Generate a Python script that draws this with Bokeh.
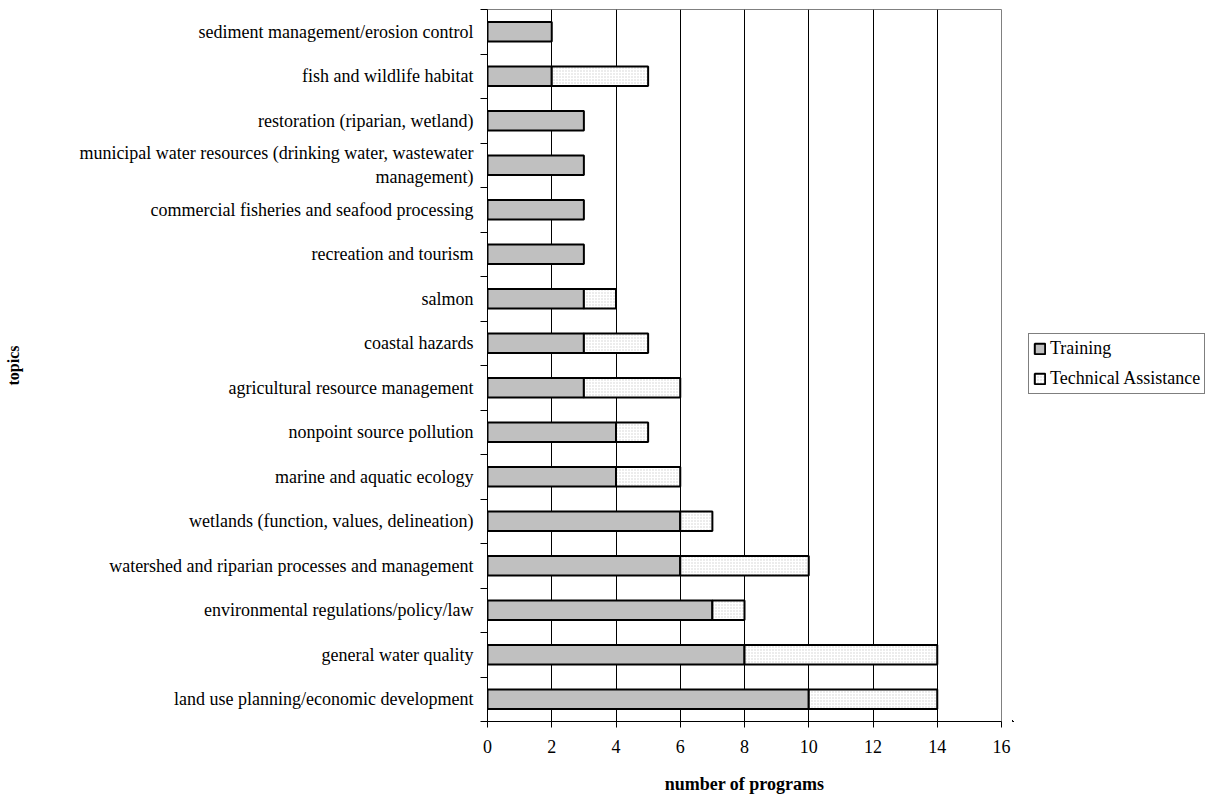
from bokeh.plotting import figure
from bokeh.layouts import row
from bokeh.models import (ColumnDataSource, FixedTicker, Range1d, Legend, LegendItem)
from bokeh.embed import file_html
from bokeh.resources import INLINE

# Topics listed from top to bottom of the chart
topics = [
    "sediment management/erosion control",
    "fish and wildlife habitat",
    "restoration (riparian, wetland)",
    "municipal water resources (drinking water, wastewater\nmanagement)",
    "commercial fisheries and seafood processing",
    "recreation and tourism",
    "salmon",
    "coastal hazards",
    "agricultural resource management",
    "nonpoint source pollution",
    "marine and aquatic ecology",
    "wetlands (function, values, delineation)",
    "watershed and riparian processes and management",
    "environmental regulations/policy/law",
    "general water quality",
    "land use planning/economic development",
]
training = [2, 2, 3, 3, 3, 3, 3, 3, 3, 4, 4, 6, 6, 7, 8, 10]
technical_assistance = [0, 3, 0, 0, 0, 0, 1, 2, 3, 1, 2, 1, 4, 1, 6, 4]
x_ticks = [0, 2, 4, 6, 8, 10, 12, 14, 16]

n = len(topics)
# first topic sits at the top of the plot
y_pos = [n - 0.5 - i for i in range(n)]

FONT = "Liberation Serif"
TRAIN_STYLE = dict(fill_color="#c0c0c0", line_color="black", line_width=2)
TA_STYLE = dict(fill_color="white", line_color="black", line_width=2,
                hatch_pattern="dot", hatch_color="#cfcfcf", hatch_scale=3, hatch_weight=0.5)

p = figure(width=1012, height=796, output_backend="svg", toolbar_location=None,
           x_range=Range1d(0, 16), y_range=Range1d(0, n),
           min_border_left=487, min_border_right=11,
           min_border_top=9, min_border_bottom=75)

p.background_fill_color = "white"
p.border_fill_color = "white"
p.outline_line_color = "#808080"
p.outline_line_width = 1

train_src = ColumnDataSource(dict(y=y_pos, left=[0] * n, right=training))
ta_y, ta_l, ta_r = [], [], []
for yy, t, a in zip(y_pos, training, technical_assistance):
    if a > 0:
        ta_y.append(yy)
        ta_l.append(t)
        ta_r.append(t + a)
ta_src = ColumnDataSource(dict(y=ta_y, left=ta_l, right=ta_r))

bar_h = 0.44
p.hbar(y="y", left="left", right="right", height=bar_h, source=train_src, **TRAIN_STYLE)
p.hbar(y="y", left="left", right="right", height=bar_h, source=ta_src, **TA_STYLE)

# x axis
xa = p.xaxis[0]
xa.ticker = FixedTicker(ticks=x_ticks)
xa.axis_label = "number of programs"
xa.axis_label_text_font = FONT
xa.axis_label_text_font_style = "bold"
xa.axis_label_text_font_size = "18px"
xa.axis_label_text_color = "black"
xa.axis_label_standoff = 18
xa.major_label_text_font = FONT
xa.major_label_text_font_size = "18px"
xa.major_label_text_color = "black"
xa.major_label_standoff = 12
xa.major_tick_out = 6
xa.major_tick_in = 0
xa.minor_tick_line_color = None
xa.axis_line_color = "black"
xa.major_tick_line_color = "black"

# y axis: labels at category centres, ticks on category boundaries
ya = p.yaxis[0]
ya.ticker = FixedTicker(ticks=y_pos, minor_ticks=list(range(n + 1)))
ya.major_label_overrides = {yy: t for yy, t in zip(y_pos, topics)}
ya.major_label_text_font = FONT
ya.major_label_text_font_size = "18px"
ya.major_label_text_color = "black"
ya.major_label_standoff = 7
ya.major_tick_line_color = None
ya.major_tick_out = 0
ya.major_tick_in = 0
ya.minor_tick_line_color = "black"
ya.minor_tick_out = 7
ya.minor_tick_in = 0
ya.axis_line_color = "black"
ya.axis_label = "topics"
ya.axis_label_text_font = FONT
ya.axis_label_text_font_style = "bold"
ya.axis_label_text_font_size = "16px"
ya.axis_label_text_color = "black"
ya.axis_label_standoff = 54

# vertical grid lines inside the frame (the right edge is the grey outline)
p.xgrid.ticker = FixedTicker(ticks=x_ticks[1:-1])
p.xgrid.grid_line_color = "black"
p.xgrid.grid_line_width = 1
p.ygrid.grid_line_color = None

# narrow side panel that holds the legend; it shares the bar sources so the
# legend keys have data, while its ranges keep those bars out of view
side = figure(width=197, height=796, output_backend="svg", toolbar_location=None,
              x_range=Range1d(100, 297), y_range=Range1d(100, 812),
              x_axis_location=None, y_axis_location=None,
              min_border=0, outline_line_color=None)
side.grid.visible = False
key_train = side.hbar(y="y", left="left", right="right", height=bar_h,
                      source=train_src, **TRAIN_STYLE)
key_ta = side.hbar(y="y", left="left", right="right", height=bar_h,
                   source=ta_src, **TA_STYLE)

# the side frame lines up with the chart frame, so the offset is from its bottom edge
legend = Legend(items=[LegendItem(label="Training", renderers=[key_train]),
                       LegendItem(label="Technical Assistance", renderers=[key_ta])],
                location=(16, 327), orientation="vertical",
                border_line_color="black", border_line_width=1,
                background_fill_color="white", background_fill_alpha=1,
                label_text_font=FONT, label_text_font_size="18px",
                label_text_color="black",
                glyph_width=13, glyph_height=13, label_standoff=4,
                label_height=21, padding=4, spacing=9, margin=0)
side.add_layout(legend)

layout = row(p, side, spacing=0)
open("out.html", "w").write(file_html(layout, INLINE))
